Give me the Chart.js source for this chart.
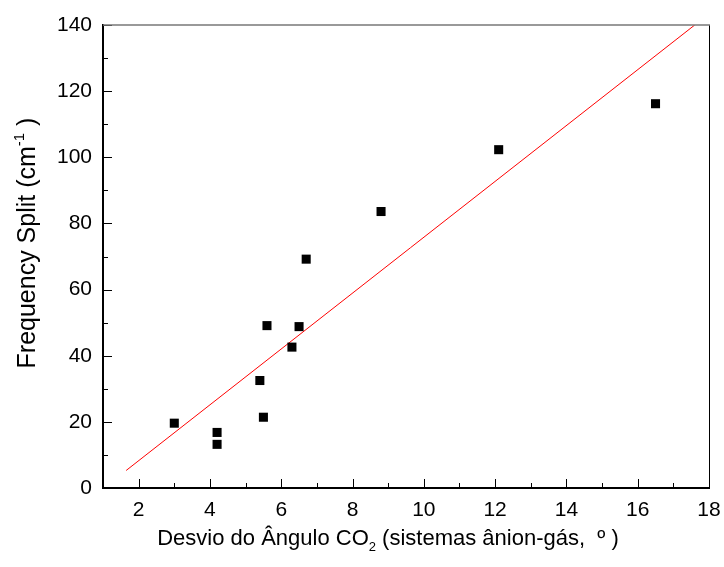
<!DOCTYPE html>
<html>
<head>
<meta charset="utf-8">
<script src="https://cdn.jsdelivr.net/npm/chart.js@4"></script>
<style>
  html, body { margin: 0; padding: 0; background: #fff; }
  #wrap { width: 724px; height: 567px; }
</style>
</head>
<body>
<div id="wrap"><canvas id="splitChart" width="724" height="567"></canvas></div>
<script>
// measured points (angle deviation vs frequency split)
const angleDev = [3.0, 4.2, 4.2, 5.4, 5.5, 5.6, 6.3, 6.5, 6.7, 8.8, 12.1, 16.5];
const freqSplit = [19.6, 16.8, 13.2, 32.5, 21.4, 49.1, 42.6, 48.8, 69.2, 83.6, 102.3, 116.2];

// fitted line, end points
const fitX = [1.65, 17.6];
const fitY = [5.3, 140];

// axis titles as text runs (sub/sup handled when drawing)
const xTitleRuns = [['Desvio do Ângulo CO', ''], ['2', 'sub'], [' (sistemas ânion-gás,  º )', '']];
const yTitleRuns = [['Frequency Split (cm', ''], ['-1', 'sup'], [' )', '']];

const FONT = "'Liberation Sans', Arial, sans-serif";

function drawRuns(ctx, runs, size, cx, baseY) {
    const small = Math.round(size * 0.6);
    const fontFor = kind => (kind ? small : size) + 'px ' + FONT;
    let total = 0;
    runs.forEach(([t, kind]) => { ctx.font = fontFor(kind); total += ctx.measureText(t).width; });
    let x = cx - total / 2;
    ctx.textAlign = 'left';
    ctx.textBaseline = 'alphabetic';
    runs.forEach(([t, kind]) => {
        ctx.font = fontFor(kind);
        let dy = 0;
        if (kind === 'sub') dy = size * 0.28;
        if (kind === 'sup') dy = -size * 0.45;
        ctx.fillText(t, x, baseY + dy);
        x += ctx.measureText(t).width;
    });
}

// inward ticks (major + minor), the top/right frame and the axis titles
const framePlugin = {
    id: 'frame',
    afterDraw(chart) {
        const { ctx, chartArea: a, scales: { x, y } } = chart;
        ctx.save();
        ctx.strokeStyle = '#000';
        ctx.lineWidth = 1;
        ctx.beginPath();
        for (let v = 1; v <= 18; v++) {
            const px = Math.round(x.getPixelForValue(v)) + 0.5;
            const len = v % 2 === 0 ? 9 : 5;
            ctx.moveTo(px, a.bottom);
            ctx.lineTo(px, a.bottom - len);
        }
        for (let v = 0; v <= 140; v += 10) {
            const py = Math.round(y.getPixelForValue(v)) + 0.5;
            const len = v % 20 === 0 ? 9 : 5;
            ctx.moveTo(a.left, py);
            ctx.lineTo(a.left + len, py);
        }
        ctx.stroke();

        ctx.beginPath();
        ctx.moveTo(a.right + 0.5, a.top);
        ctx.lineTo(a.right + 0.5, a.bottom);
        ctx.stroke();

        ctx.strokeStyle = '#777';
        ctx.lineWidth = 1.5;
        ctx.beginPath();
        ctx.moveTo(a.left, a.top);
        ctx.lineTo(a.right + 1, a.top);
        ctx.stroke();

        ctx.fillStyle = '#000';
        drawRuns(ctx, xTitleRuns, 22, 388, 545);

        ctx.translate(35, 243);
        ctx.rotate(-Math.PI / 2);
        drawRuns(ctx, yTitleRuns, 25, 0, 0);
        ctx.restore();
    }
};

const ctx = document.getElementById('splitChart').getContext('2d');
new Chart(ctx, {
    type: 'scatter',
    data: {
        datasets: [{
            label: 'data',
            data: angleDev.map((v, i) => ({ x: v, y: freqSplit[i] })),
            pointStyle: 'rect',
            pointRadius: 6.4,
            borderWidth: 0,
            backgroundColor: '#000'
        }, {
            label: 'fit',
            data: fitX.map((v, i) => ({ x: v, y: fitY[i] })),
            showLine: true,
            pointRadius: 0,
            borderColor: '#ff0000',
            borderWidth: 1
        }]
    },
    options: {
        responsive: false,
        animation: false,
        layout: { padding: { top: 25, right: 15, left: 0, bottom: 0 } },
        plugins: {
            legend: { display: false },
            tooltip: { enabled: false }
        },
        scales: {
            x: {
                type: 'linear',
                min: 1,
                max: 18,
                afterFit: s => { s.height = 79; s.paddingLeft = 0; s.paddingRight = 0; },
                ticks: {
                    stepSize: 2,
                    includeBounds: false,
                    padding: 10,
                    color: '#000',
                    maxRotation: 0,
                    font: { family: FONT, size: 21 }
                },
                grid: { display: true, drawOnChartArea: false, drawTicks: false },
                border: { color: '#000', width: 2 }
            },
            y: {
                type: 'linear',
                min: 0,
                max: 140,
                afterFit: s => { s.width = 103; s.paddingTop = 0; s.paddingBottom = 0; },
                ticks: {
                    stepSize: 20,
                    padding: 11,
                    color: '#000',
                    font: { family: FONT, size: 21 }
                },
                grid: { display: true, drawOnChartArea: false, drawTicks: false },
                border: { color: '#000', width: 2 }
            }
        }
    },
    plugins: [framePlugin]
});
</script>
</body>
</html>
